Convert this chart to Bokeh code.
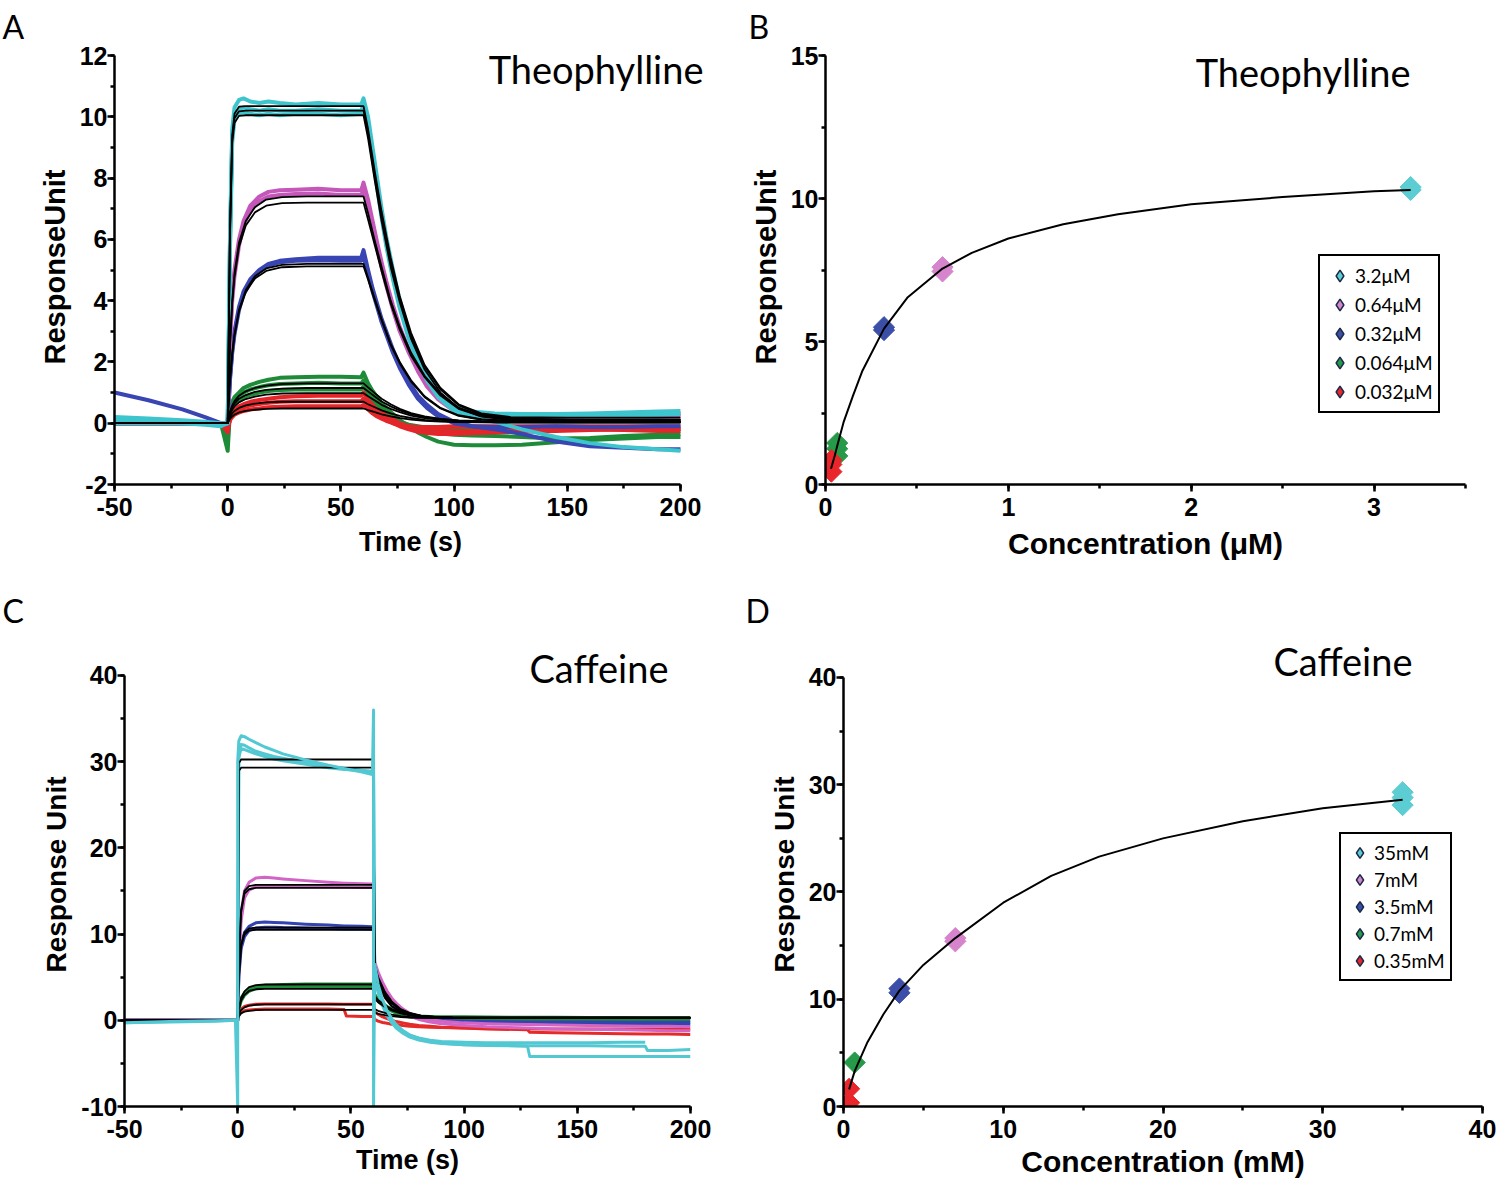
import math
from bokeh.plotting import figure
from bokeh.models import (Range1d, SingleIntervalTicker, Label, Legend, LegendItem,
                          PrintfTickFormatter)
from bokeh.layouts import row, column
from bokeh.embed import file_html
from bokeh.resources import INLINE

NA = float("nan")

# ---------------- Panel A: Theophylline sensorgrams (time s, response RU) ----------------
A_T = [-50, -35, -20, -10, -3, 0, 1, 2, 3, 5, 7, 10, 14, 18, 23, 30, 40, 50, 59, 60,
       62, 64, 66, 68, 70, 73, 76, 80, 84, 88, 93, 100, 108, 118, 130, 145, 160, 175, 190, 200]
A_CYAN_1 = [0.2, 0.15, 0.1, 0.05, 0.0, 0.0, 6.0, 9.6, 10.3, 10.55, 10.6, 10.5, 10.45, 10.5, 10.45, 10.4, 10.45, 10.4, 10.4, 10.6,
            10.0, 9.0, 8.0, 7.0, 6.1, 5.0, 4.0, 3.0, 2.2, 1.6, 1.0, 0.55, 0.38, 0.32, 0.3, 0.3, 0.32, 0.35, 0.38, 0.4]
A_CYAN_2 = [0.1, 0.05, 0.0, 0.0, -0.05, 0.0, 5.8, 9.4, 10.05, 10.25, 10.3, 10.25, 10.2, 10.25, 10.2, 10.2, 10.25, 10.2, 10.2, 10.4,
            9.8, 8.8, 7.8, 6.8, 5.9, 4.8, 3.85, 2.85, 2.1, 1.5, 0.95, 0.5, 0.32, 0.25, 0.25, 0.22, 0.25, 0.25, 0.28, 0.3]
A_CYAN_3 = [0.0, 0.0, 0.0, -0.05, -0.1, 0.0, 5.6, 9.2, 9.9, 10.1, 10.15, 10.1, 10.05, 10.1, 10.05, 10.1, 10.1, 10.05, 10.1, 10.3,
            9.7, 8.7, 7.7, 6.7, 5.8, 4.7, 3.75, 2.75, 2.0, 1.4, 0.85, 0.4, 0.2, 0.05, -0.2, -0.45, -0.65, -0.78, -0.85, -0.9]
A_PINK_1 = [0.15, 0.1, 0.05, 0.0, 0.0, 0.0, 2.8, 4.2, 5.0, 6.0, 6.6, 7.1, 7.4, 7.55, 7.6, 7.62, 7.65, 7.6, 7.6, 7.85,
            7.3, 6.6, 5.9, 5.25, 4.65, 3.85, 3.15, 2.4, 1.8, 1.3, 0.85, 0.45, 0.32, 0.28, 0.28, 0.27, 0.28, 0.3, 0.3, 0.32]
A_PINK_2 = [0.0, 0.0, 0.0, 0.0, 0.0, 0.0, 2.6, 4.0, 4.8, 5.8, 6.45, 6.95, 7.25, 7.4, 7.45, 7.48, 7.5, 7.45, 7.45, 7.6,
            7.15, 6.45, 5.75, 5.1, 4.5, 3.7, 3.0, 2.3, 1.7, 1.2, 0.78, 0.4, 0.25, 0.2, 0.2, 0.2, 0.22, 0.22, 0.22, 0.25]
A_BLUE_1 = [1.0, 0.75, 0.45, 0.2, 0.0, 0.0, 1.5, 2.4, 3.0, 3.8, 4.3, 4.7, 5.0, 5.2, 5.3, 5.35, 5.4, 5.4, 5.4, 5.65,
            5.0, 4.4, 3.9, 3.4, 3.0, 2.4, 1.9, 1.35, 0.9, 0.6, 0.3, 0.05, -0.1, -0.2, -0.35, -0.6, -0.75, -0.8, -0.85, -0.85]
A_BLUE_2 = [0.0, 0.0, 0.0, 0.0, 0.0, 0.0, 1.4, 2.3, 2.9, 3.7, 4.2, 4.6, 4.95, 5.15, 5.25, 5.3, 5.32, 5.3, 5.3, 5.45,
            4.9, 4.3, 3.8, 3.3, 2.9, 2.3, 1.8, 1.25, 0.8, 0.5, 0.22, 0.0, -0.1, -0.12, -0.12, -0.1, -0.12, -0.12, -0.1, -0.1]
A_GREEN_1 = [0.0, 0.0, 0.0, 0.0, 0.0, -0.9, 0.4, 0.7, 0.85, 1.0, 1.15, 1.25, 1.35, 1.42, 1.48, 1.5, 1.52, 1.52, 1.5, 1.65,
             1.3, 1.05, 0.85, 0.65, 0.5, 0.3, 0.1, -0.1, -0.3, -0.45, -0.6, -0.7, -0.72, -0.72, -0.7, -0.62, -0.55, -0.5, -0.45, -0.45]
A_GREEN_2 = [0.0, 0.0, 0.0, 0.0, 0.0, -0.5, 0.35, 0.6, 0.75, 0.9, 1.0, 1.1, 1.18, 1.24, 1.28, 1.3, 1.32, 1.3, 1.3, 1.4,
             1.1, 0.9, 0.7, 0.55, 0.4, 0.2, 0.05, -0.1, -0.2, -0.28, -0.33, -0.38, -0.4, -0.42, -0.45, -0.5, -0.48, -0.42, -0.38, -0.35]
A_GREEN_3 = [0.0, 0.0, 0.0, 0.0, 0.0, -0.3, 0.3, 0.5, 0.62, 0.75, 0.85, 0.93, 1.0, 1.05, 1.08, 1.1, 1.1, 1.1, 1.1, 1.2,
             0.95, 0.75, 0.6, 0.45, 0.33, 0.18, 0.05, -0.05, -0.1, -0.15, -0.18, -0.2, -0.2, -0.2, -0.2, -0.2, -0.2, -0.2, -0.2, -0.2]
A_RED_1 = [0.1, 0.05, 0.05, 0.0, 0.0, -0.3, 0.2, 0.35, 0.45, 0.55, 0.62, 0.7, 0.76, 0.8, 0.85, 0.88, 0.9, 0.9, 0.9, 1.0,
           0.75, 0.6, 0.45, 0.35, 0.25, 0.12, 0.0, -0.1, -0.15, -0.2, -0.22, -0.25, -0.25, -0.25, -0.22, -0.2, -0.2, -0.22, -0.25, -0.25]
A_RED_2 = [0.0, 0.0, 0.0, 0.0, 0.0, -0.2, 0.15, 0.28, 0.36, 0.45, 0.52, 0.58, 0.63, 0.67, 0.7, 0.72, 0.72, 0.72, 0.72, 0.8,
           0.6, 0.45, 0.33, 0.22, 0.12, 0.0, -0.1, -0.2, -0.28, -0.32, -0.35, -0.35, -0.33, -0.3, -0.28, -0.25, -0.22, -0.2, -0.2, -0.2]
A_RED_3 = [0.0, 0.0, 0.0, 0.0, 0.0, -0.15, 0.1, 0.2, 0.28, 0.35, 0.4, 0.45, 0.48, 0.52, 0.54, 0.55, 0.55, 0.55, 0.55, 0.6,
           0.45, 0.32, 0.22, 0.15, 0.08, 0.0, -0.05, -0.1, -0.12, -0.12, -0.12, -0.1, -0.1, -0.1, -0.1, -0.1, -0.1, -0.1, -0.1, -0.1]

# fitted (black) curves, panel A
A_TF = [-50, 0, 1, 2, 3, 5, 8, 12, 17, 24, 35, 60, 62, 65, 68, 72, 76, 81, 87, 94, 102, 112, 125, 150, 200]
A_FIT_CY1 = [0, 0, 6.3, 9.4, 10.1, 10.33, 10.35, 10.35, 10.35, 10.35, 10.35, 10.35, 9.6, 8.2, 6.9, 5.4, 4.15, 2.95, 1.9, 1.15, 0.62, 0.32, 0.2, 0.18, 0.18]
A_FIT_CY2 = [0, 0, 6.2, 9.3, 9.95, 10.18, 10.2, 10.2, 10.2, 10.2, 10.2, 10.2, 9.45, 8.05, 6.75, 5.25, 4.05, 2.85, 1.85, 1.1, 0.58, 0.28, 0.16, 0.12, 0.12]
A_FIT_CY3 = [0, 0, 6.1, 9.15, 9.8, 10.03, 10.05, 10.05, 10.05, 10.05, 10.05, 10.05, 9.3, 7.9, 6.6, 5.1, 3.95, 2.75, 1.75, 1.0, 0.5, 0.22, 0.1, 0.05, 0.05]
A_FIT_PK1 = [0, 0, 2.6, 4.0, 4.9, 5.9, 6.6, 7.05, 7.3, 7.38, 7.4, 7.4, 6.85, 5.95, 5.1, 4.0, 3.15, 2.3, 1.55, 0.95, 0.5, 0.25, 0.15, 0.12, 0.12]
A_FIT_PK2 = [0, 0, 2.5, 3.9, 4.75, 5.75, 6.45, 6.88, 7.1, 7.18, 7.2, 7.2, 6.65, 5.8, 4.95, 3.9, 3.05, 2.2, 1.5, 0.9, 0.47, 0.22, 0.12, 0.1, 0.1]
A_FIT_BL1 = [0, 0, 1.4, 2.3, 2.9, 3.7, 4.35, 4.8, 5.05, 5.17, 5.2, 5.2, 4.75, 4.05, 3.4, 2.6, 2.0, 1.4, 0.88, 0.5, 0.26, 0.13, 0.08, 0.06, 0.06]
A_FIT_BL2 = [0, 0, 1.35, 2.25, 2.85, 3.65, 4.28, 4.72, 4.97, 5.09, 5.12, 5.12, 4.68, 4.0, 3.35, 2.55, 1.95, 1.36, 0.85, 0.48, 0.24, 0.12, 0.07, 0.05, 0.05]
A_FIT_GR1 = [0, 0, 0.38, 0.58, 0.72, 0.9, 1.04, 1.15, 1.23, 1.28, 1.3, 1.3, 1.17, 0.98, 0.8, 0.62, 0.47, 0.33, 0.22, 0.14, 0.09, 0.07, 0.06, 0.05, 0.05]
A_FIT_GR2 = [0, 0, 0.34, 0.52, 0.64, 0.8, 0.92, 1.02, 1.09, 1.13, 1.15, 1.15, 1.04, 0.87, 0.71, 0.55, 0.42, 0.3, 0.2, 0.13, 0.08, 0.06, 0.05, 0.04, 0.04]
A_FIT_GR3 = [0, 0, 0.29, 0.44, 0.55, 0.68, 0.79, 0.87, 0.93, 0.97, 0.98, 0.98, 0.88, 0.74, 0.6, 0.47, 0.36, 0.25, 0.17, 0.11, 0.07, 0.05, 0.04, 0.03, 0.03]
A_FIT_RD1 = [0, 0, 0.2, 0.32, 0.4, 0.5, 0.58, 0.64, 0.68, 0.7, 0.7, 0.7, 0.62, 0.52, 0.42, 0.32, 0.24, 0.17, 0.11, 0.07, 0.05, 0.04, 0.03, 0.03, 0.03]
A_FIT_RD2 = [0, 0, 0.14, 0.22, 0.28, 0.35, 0.4, 0.44, 0.47, 0.48, 0.48, 0.48, 0.43, 0.36, 0.29, 0.22, 0.17, 0.12, 0.08, 0.05, 0.04, 0.03, 0.02, 0.02, 0.02]

# ---------------- Panel B: Theophylline steady state ----------------
B_LABELS = ["3.2\u03bcM", "0.64\u03bcM", "0.32\u03bcM", "0.064\u03bcM", "0.032\u03bcM"]
B_CONC_CY = [3.2, 3.2]
B_RESP_CY = [10.3, 10.4]
B_CONC_PK = [0.64, 0.64]
B_RESP_PK = [7.45, 7.6]
B_CONC_BL = [0.32, 0.32]
B_RESP_BL = [5.4, 5.5]
B_CONC_GR = [0.064, 0.064, 0.064]
B_RESP_GR = [1.0, 1.25, 1.45]
B_CONC_RD = [0.032, 0.032, 0.032]
B_RESP_RD = [0.45, 0.7, 0.85]
B_FIT_CONC = [0.03, 0.05, 0.064, 0.1, 0.15, 0.2, 0.32, 0.45, 0.64, 0.8, 1.0, 1.3, 1.6, 2.0, 2.5, 3.0, 3.2]
B_FIT_RESP = [0.55, 1.0, 1.35, 2.2, 3.1, 3.95, 5.45, 6.55, 7.55, 8.1, 8.6, 9.1, 9.45, 9.8, 10.05, 10.25, 10.3]

# ---------------- Panel C: Caffeine sensorgrams ----------------
C_T = [-50, -30, -10, -1, 0, 0, 0.5, 1.5, 3, 5, 8, 12, 16, 20, 30, 40, 47, 48, 55, 59.5,
       60, 60, 60.5, 62, 64, 66, 68, 70, 73, 76, 80, 85, 90, 100, 110, 128, 129, 140, 155, 170,
       180, 181, 190, 200]
C_CYAN_1 = [-0.3, -0.15, -0.05, 0.0, -10.0, 30.0, 32.4, 33.0, 32.9, 32.6, 32.2, 31.7, 31.3, 30.9, 30.2, 29.6, 29.2, 29.15, 28.8, 28.5,
            36.0, -10.0, 6.5, 4.2, 2.4, 1.1, 0.2, -0.5, -1.2, -1.7, -2.1, -2.45, -2.65, -2.85, -2.92, -3.0, -4.2, -4.2, -4.2, -4.2,
            -4.2, -4.2, -4.2, -4.2]
C_CYAN_2 = [-0.2, -0.1, 0.0, 0.0, 0.0, 0.0, 31.0, 32.0, 31.9, 31.6, 31.2, 30.9, 30.6, 30.4, 29.9, 29.5, 29.2, 29.2, 29.0, 28.9,
            28.9, 28.9, 5.5, 3.6, 2.0, 0.8, -0.1, -0.7, -1.3, -1.75, -2.05, -2.3, -2.45, -2.55, -2.6, -2.6, -2.6, -2.6, -2.6, -2.55,
            -2.55, NA, NA, NA]
C_CYAN_3 = [-0.3, -0.2, -0.1, 0.0, 0.0, 0.0, 30.5, 31.5, 31.4, 31.2, 30.9, 30.6, 30.3, 30.1, 29.7, 29.3, 29.1, 29.1, 28.9, 28.8,
            28.8, 28.8, 5.0, 3.2, 1.7, 0.5, -0.3, -0.9, -1.5, -1.95, -2.3, -2.55, -2.7, -2.85, -2.9, -2.95, -2.95, -2.95, -2.95, -3.0,
            -3.0, -3.5, -3.5, -3.4]
C_PINK_1 = [0.0, 0.0, 0.0, 0.0, 0.0, 0.0, 7.0, 12.5, 15.0, 16.0, 16.5, 16.6, 16.5, 16.4, 16.2, 16.0, 15.9, 15.9, 15.85, 15.8,
            15.8, 15.8, 6.8, 5.6, 4.4, 3.4, 2.6, 2.0, 1.3, 0.8, 0.4, 0.1, -0.1, -0.3, -0.4, -0.5, -0.5, -0.55, -0.6, -0.65,
            -0.7, -0.7, -0.7, -0.75]
C_PINK_2 = [0.0, 0.0, 0.0, 0.0, 0.0, 0.0, 6.0, 11.5, 14.2, 15.1, 15.5, 15.6, 15.6, 15.55, 15.5, 15.5, 15.45, 15.45, 15.4, 15.4,
            15.4, 15.4, 6.3, 5.2, 4.0, 3.1, 2.3, 1.7, 1.0, 0.5, 0.1, -0.2, -0.4, -0.6, -0.75, -0.9, -0.9, -1.0, -1.05, -1.1,
            -1.15, -1.15, -1.2, -1.2]
C_BLUE_1 = [0.0, 0.0, 0.0, 0.0, 0.0, 0.0, 5.5, 8.8, 10.2, 10.9, 11.3, 11.4, 11.35, 11.3, 11.15, 11.05, 10.95, 10.95, 10.9, 10.85,
            10.85, 10.85, 5.6, 4.6, 3.7, 2.9, 2.3, 1.75, 1.15, 0.7, 0.35, 0.1, -0.05, -0.2, -0.28, -0.35, -0.35, -0.38, -0.4, -0.42,
            -0.45, -0.45, -0.45, -0.45]
C_BLUE_2 = [0.0, 0.0, 0.0, 0.0, 0.0, 0.0, 5.0, 8.3, 9.7, 10.4, 10.7, 10.8, 10.8, 10.75, 10.7, 10.65, 10.6, 10.6, 10.6, 10.55,
            10.55, 10.55, 5.3, 4.3, 3.4, 2.7, 2.1, 1.6, 1.05, 0.65, 0.35, 0.15, 0.0, -0.1, -0.15, -0.2, -0.2, -0.2, -0.2, -0.22,
            -0.22, -0.22, -0.22, -0.22]
C_GREEN_1 = [0.0, 0.0, 0.0, 0.0, 0.0, 0.0, 1.5, 2.6, 3.2, 3.6, 3.9, 4.05, 4.1, 4.15, 4.2, 4.2, 4.2, 4.2, 4.2, 4.2,
             4.2, 4.2, 3.0, 2.5, 2.0, 1.6, 1.3, 1.05, 0.8, 0.62, 0.5, 0.45, 0.42, 0.4, 0.38, 0.35, 0.35, 0.35, 0.32, 0.32,
             0.3, 0.3, 0.3, 0.3]
C_GREEN_2 = [0.0, 0.0, 0.0, 0.0, 0.0, 0.0, 1.2, 2.2, 2.9, 3.35, 3.65, 3.8, 3.85, 3.9, 3.9, 3.9, 3.9, 3.9, 3.9, 3.9,
             3.9, 3.9, 2.7, 2.2, 1.75, 1.35, 1.05, 0.8, 0.55, 0.38, 0.25, 0.15, 0.1, 0.05, 0.02, 0.0, 0.0, 0.0, 0.0, 0.0,
             0.0, 0.0, 0.0, 0.0]
C_RED_1 = [0.0, 0.0, 0.0, 0.0, 0.0, 0.0, 0.8, 1.3, 1.6, 1.75, 1.85, 1.9, 1.9, 1.9, 1.9, 1.88, 1.86, 1.86, 1.85, 1.85,
           1.85, 1.85, 1.0, 0.7, 0.4, 0.2, 0.0, -0.15, -0.3, -0.45, -0.6, -0.7, -0.8, -0.9, -1.0, -1.1, -1.4, -1.45, -1.5, -1.55,
           -1.6, -1.6, -1.6, -1.65]
C_RED_2 = [0.0, 0.0, 0.0, 0.0, 0.0, 0.0, 0.6, 0.95, 1.1, 1.2, 1.25, 1.3, 1.3, 1.3, 1.3, 1.3, 1.25, 0.5, 0.45, 0.45,
           0.45, 0.45, 0.1, -0.1, -0.25, -0.35, -0.45, -0.5, -0.6, -0.68, -0.75, -0.8, -0.85, -0.9, -0.95, -1.0, -1.0, -1.0, -1.0, -1.0,
           -1.0, -1.0, -1.0, -1.0]

C_TF = [-50, 0, 0.5, 1.5, 3, 5, 8, 12, 20, 60, 60.5, 62, 65, 68, 72, 76, 81, 87, 95, 105, 120, 150, 200]
C_FIT_CY1 = [0, 0, 29.8, 30.25, 30.25, 30.25, 30.25, 30.25, 30.25, 30.25, 6.0, 4.4, 2.7, 1.7, 1.0, 0.65, 0.45, 0.36, 0.32, 0.3, 0.3, 0.3, 0.3]
C_FIT_CY2 = [0, 0, 28.9, 29.3, 29.3, 29.3, 29.3, 29.3, 29.3, 29.3, 5.8, 4.2, 2.6, 1.6, 0.95, 0.6, 0.42, 0.34, 0.3, 0.28, 0.28, 0.28, 0.28]
C_FIT_PK1 = [0, 0, 7.2, 12.8, 15.0, 15.55, 15.7, 15.7, 15.7, 15.7, 6.5, 5.0, 3.3, 2.2, 1.3, 0.85, 0.55, 0.4, 0.32, 0.3, 0.3, 0.3, 0.3]
C_FIT_PK2 = [0, 0, 7.0, 12.5, 14.7, 15.2, 15.35, 15.35, 15.35, 15.35, 6.3, 4.9, 3.2, 2.1, 1.25, 0.8, 0.52, 0.38, 0.3, 0.28, 0.28, 0.28, 0.28]
C_FIT_BL1 = [0, 0, 5.0, 8.8, 10.2, 10.65, 10.75, 10.75, 10.75, 10.75, 5.4, 4.4, 3.0, 2.05, 1.2, 0.8, 0.5, 0.38, 0.32, 0.3, 0.3, 0.3, 0.3]
C_FIT_BL2 = [0, 0, 4.8, 8.6, 9.95, 10.4, 10.5, 10.5, 10.5, 10.5, 5.2, 4.3, 2.9, 2.0, 1.15, 0.75, 0.48, 0.36, 0.3, 0.28, 0.28, 0.28, 0.28]
C_FIT_GR1 = [0, 0, 1.4, 2.6, 3.35, 3.85, 4.08, 4.15, 4.15, 4.15, 2.8, 2.35, 1.75, 1.3, 0.88, 0.62, 0.45, 0.37, 0.32, 0.3, 0.3, 0.3, 0.3]
C_FIT_GR2 = [0, 0, 1.2, 2.3, 2.95, 3.4, 3.6, 3.65, 3.65, 3.65, 2.5, 2.1, 1.55, 1.15, 0.8, 0.56, 0.42, 0.35, 0.3, 0.28, 0.28, 0.28, 0.28]
C_FIT_RD1 = [0, 0, 0.7, 1.2, 1.5, 1.7, 1.8, 1.85, 1.85, 1.85, 1.3, 1.1, 0.85, 0.65, 0.48, 0.38, 0.32, 0.3, 0.28, 0.27, 0.27, 0.27, 0.27]
C_FIT_RD2 = [0, 0, 0.45, 0.8, 1.0, 1.1, 1.17, 1.2, 1.2, 1.2, 0.9, 0.75, 0.6, 0.48, 0.38, 0.32, 0.28, 0.26, 0.25, 0.25, 0.25, 0.25, 0.25]

# ---------------- Panel D: Caffeine steady state ----------------
D_LABELS = ["35mM", "7mM", "3.5mM", "0.7mM", "0.35mM"]
D_CONC_CY = [35, 35, 35]
D_RESP_CY = [28.1, 28.8, 29.3]
D_CONC_PK = [7, 7]
D_RESP_PK = [15.4, 15.7]
D_CONC_BL = [3.5, 3.5]
D_RESP_BL = [10.6, 11.0]
D_CONC_GR = [0.7]
D_RESP_GR = [4.1]
D_CONC_RD = [0.35, 0.35]
D_RESP_RD = [0.35, 1.65]
D_FIT_CONC = [0.35, 0.7, 1.5, 2.5, 3.5, 5, 7, 10, 13, 16, 20, 25, 30, 35]
D_FIT_RESP = [1.6, 3.3, 6.0, 8.6, 10.8, 13.2, 15.7, 19.0, 21.5, 23.3, 25.0, 26.6, 27.8, 28.6]

# ---------------- styles ----------------
TRACE_COLORS = {"cyan": "#3ec4cc", "pink": "#c556ba", "blue": "#3845b2", "green": "#1d8b38", "red": "#e4262b"}
TRACE_COLORS_C = {"cyan": "#52c8d3", "pink": "#d264c6", "blue": "#3443b0", "green": "#1f8c3a", "red": "#e52a2a"}
POINT_COLORS = {"cyan": "#5ccdd3", "pink": "#d685cc", "blue": "#3b4ea8", "green": "#279a4a", "red": "#e8262b"}
EDGE = "#1b2a48"
TICK_FONT = "Liberation Sans"
TEXT_FONT = "Lato"

for name, arr in [("A_CYAN_1", A_CYAN_1), ("A_CYAN_2", A_CYAN_2), ("A_CYAN_3", A_CYAN_3), ("A_PINK_1", A_PINK_1),
                  ("A_PINK_2", A_PINK_2), ("A_BLUE_1", A_BLUE_1), ("A_BLUE_2", A_BLUE_2), ("A_GREEN_1", A_GREEN_1),
                  ("A_GREEN_2", A_GREEN_2), ("A_GREEN_3", A_GREEN_3), ("A_RED_1", A_RED_1), ("A_RED_2", A_RED_2),
                  ("A_RED_3", A_RED_3)]:
    assert len(arr) == len(A_T), name
for name, arr in [("C_CYAN_1", C_CYAN_1), ("C_CYAN_2", C_CYAN_2), ("C_CYAN_3", C_CYAN_3), ("C_PINK_1", C_PINK_1),
                  ("C_PINK_2", C_PINK_2), ("C_BLUE_1", C_BLUE_1), ("C_BLUE_2", C_BLUE_2), ("C_GREEN_1", C_GREEN_1),
                  ("C_GREEN_2", C_GREEN_2), ("C_RED_1", C_RED_1), ("C_RED_2", C_RED_2)]:
    assert len(arr) == len(C_T), name


def base_fig(width, height, borders, xr, yr, xbounds, ybounds, xstep, ystep,
             xlabel, ylabel, xlab_size, ylab_size, xlab_standoff, letter, letter_offset, letter_standoff):
    left, right, top, bottom = borders
    p = figure(width=width, height=height, x_range=Range1d(*xr), y_range=Range1d(*yr),
               output_backend="svg", toolbar_location=None,
               min_border_left=left, min_border_right=right, min_border_top=top, min_border_bottom=bottom)
    p.outline_line_color = None
    p.grid.visible = False
    p.background_fill_color = "white"
    p.border_fill_color = "white"
    p.xaxis.ticker = SingleIntervalTicker(interval=xstep, num_minor_ticks=2)
    p.yaxis.ticker = SingleIntervalTicker(interval=ystep, num_minor_ticks=2)
    p.xaxis.bounds = xbounds
    p.yaxis.bounds = ybounds
    p.xaxis.axis_label = xlabel
    p.yaxis.axis_label = ylabel
    p.xaxis.axis_label_text_font_size = xlab_size
    p.yaxis.axis_label_text_font_size = ylab_size
    for ax in p.axis:
        ax.formatter = PrintfTickFormatter(format="%d")
        ax.axis_line_width = 2.5
        ax.axis_line_color = "black"
        ax.major_tick_line_width = 2.5
        ax.major_tick_line_color = "black"
        ax.major_tick_out = 7
        ax.major_tick_in = 0
        ax.minor_tick_line_width = 2.5
        ax.minor_tick_line_color = "black"
        ax.minor_tick_out = 4
        ax.minor_tick_in = 0
        ax.major_label_text_font = TICK_FONT
        ax.major_label_text_font_style = "bold"
        ax.major_label_text_font_size = "25px"
        ax.major_label_text_color = "black"
        ax.axis_label_text_font = TICK_FONT
        ax.axis_label_text_font_style = "bold"
        ax.axis_label_text_color = "black"
    p.xaxis.major_label_standoff = 6
    p.xaxis.axis_label_standoff = xlab_standoff
    p.yaxis.major_label_standoff = 0
    p.yaxis.axis_label_standoff = 6
    # panel letter as the figure title (sits outside the frame, top-left)
    p.title.text = letter
    p.title.text_font = TEXT_FONT
    p.title.text_font_size = "32px"
    p.title.text_font_style = "normal"
    p.title.text_color = "black"
    p.title.align = "left"
    p.title.vertical_align = "top"
    p.title.offset = letter_offset
    p.title.standoff = letter_standoff
    return p


def add_text(p, x, y, text, size, align="left"):
    p.add_layout(Label(x=x, y=y, x_units="screen", y_units="screen", text=text,
                       text_font=TEXT_FONT, text_font_size=size, text_align=align,
                       text_baseline="alphabetic", text_color="black"))


def add_points(p, groups):
    legend_renderers = []
    for xs, ys, c in groups:
        r = p.scatter(xs, ys, marker="diamond", size=10, fill_color=POINT_COLORS[c],
                      line_color=EDGE, line_width=1.5)
        legend_renderers.append(r)
    for xs, ys, c in groups:
        p.scatter(xs, ys, marker="square", angle=math.pi / 4, size=15,
                  fill_color=POINT_COLORS[c], line_color=POINT_COLORS[c], line_width=1)
    return legend_renderers


def add_legend(p, labels, renderers, loc, glyph, font_size):
    items = [LegendItem(label=lab, renderers=[r]) for lab, r in zip(labels, renderers)]
    leg = Legend(items=items, location=loc)
    leg.border_line_color = "black"
    leg.border_line_width = 2
    leg.border_line_alpha = 1.0
    leg.background_fill_color = "white"
    leg.background_fill_alpha = 1.0
    leg.label_text_font = TEXT_FONT
    leg.label_text_font_size = font_size
    leg.label_text_color = "black"
    leg.glyph_width = glyph
    leg.glyph_height = glyph
    leg.label_height = glyph
    leg.spacing = 0
    leg.padding = 5
    leg.label_standoff = 1
    leg.margin = 0
    p.add_layout(leg)


# Layout note: frames in one row share top/bottom borders.
# ---------------- Panel A ----------------
pA = base_fig(735, 575, (114, 29, 49, 91), (-50, 211.5), (-2, 12.196), (-50, 200), (-2, 12), 50, 2,
              "Time (s)", "ResponseUnit", "27px", "29px", 8, "A", -112, 4)
a_traces = [(A_GREEN_1, "green"), (A_GREEN_2, "green"), (A_GREEN_3, "green"),
            (A_RED_1, "red"), (A_RED_2, "red"), (A_RED_3, "red"),
            (A_BLUE_1, "blue"), (A_BLUE_2, "blue"),
            (A_PINK_1, "pink"), (A_PINK_2, "pink"),
            (A_CYAN_1, "cyan"), (A_CYAN_2, "cyan"), (A_CYAN_3, "cyan")]
for vals, c in a_traces:
    pA.line(A_T, vals, line_color=TRACE_COLORS[c], line_width=4, line_join="round")
for vals in [A_FIT_CY1, A_FIT_CY2, A_FIT_CY3, A_FIT_PK1, A_FIT_PK2, A_FIT_BL1, A_FIT_BL2,
             A_FIT_GR1, A_FIT_GR2, A_FIT_GR3, A_FIT_RD1, A_FIT_RD2]:
    pA.line(A_TF, vals, line_color="black", line_width=1.8)
add_text(pA, 589, 416, "Theophylline", "38px", "right")

# ---------------- Panel B ----------------
pB = base_fig(761, 575, (90, 31, 49, 91), (0, 3.5), (0, 15.21), (0, 3.5), (0, 15), 1, 5,
              "Concentration (\u03bcM)", "ResponseUnit", "30px", "29px", 8, "B", -77, 4)
b_leg = add_points(pB, [(B_CONC_CY, B_RESP_CY, "cyan"), (B_CONC_PK, B_RESP_PK, "pink"),
                        (B_CONC_BL, B_RESP_BL, "blue"), (B_CONC_GR, B_RESP_GR, "green"),
                        (B_CONC_RD, B_RESP_RD, "red")])
pB.line(B_FIT_CONC, B_FIT_RESP, line_color="black", line_width=2)
add_legend(pB, B_LABELS, b_leg, (493, 71), 29, "19px")
add_text(pB, 585, 413, "Theophylline", "38px", "right")

# ---------------- Panel C ----------------
pC = base_fig(735, 605, (124, 45, 67, 73), (-50, 200), (-10, 43.82), (-50, 200), (-10, 40), 50, 10,
              "Time (s)", "Response Unit", "27px", "28px", 4, "C", -122, 22)
c_traces = [(C_RED_1, "red"), (C_RED_2, "red"), (C_GREEN_1, "green"), (C_GREEN_2, "green"),
            (C_BLUE_1, "blue"), (C_BLUE_2, "blue"), (C_PINK_1, "pink"), (C_PINK_2, "pink"),
            (C_CYAN_2, "cyan"), (C_CYAN_3, "cyan")]
for vals, c in c_traces:
    pC.line(C_T, vals, line_color=TRACE_COLORS_C[c], line_width=3, line_join="round")
for vals in [C_FIT_CY1, C_FIT_CY2, C_FIT_PK1, C_FIT_PK2, C_FIT_BL1, C_FIT_BL2,
             C_FIT_GR1, C_FIT_GR2, C_FIT_RD1, C_FIT_RD2]:
    pC.line(C_TF, vals, line_color="black", line_width=1.8)
pC.line(C_T, C_CYAN_1, line_color=TRACE_COLORS_C["cyan"], line_width=3, line_join="round")
add_text(pC, 544, 439, "Caffeine", "38px", "right")

# ---------------- Panel D ----------------
pD = base_fig(761, 605, (108, 14, 67, 73), (0, 40), (0, 43.26), (0, 40), (0, 40), 10, 10,
              "Concentration (mM)", "Response Unit", "30px", "28px", 4, "D", -98, 22)
d_leg = add_points(pD, [(D_CONC_CY, D_RESP_CY, "cyan"), (D_CONC_PK, D_RESP_PK, "pink"),
                        (D_CONC_BL, D_RESP_BL, "blue"), (D_CONC_GR, D_RESP_GR, "green"),
                        (D_CONC_RD, D_RESP_RD, "red")])
pD.line(D_FIT_CONC, D_FIT_RESP, line_color="black", line_width=2)
add_legend(pD, D_LABELS, d_leg, (496, 125), 27, "19px")
add_text(pD, 569, 446, "Caffeine", "38px", "right")

layout = column(row(pA, pB), row(pC, pD))
with open("out.html", "w", encoding="utf-8") as f:
    f.write(file_html(layout, INLINE))
